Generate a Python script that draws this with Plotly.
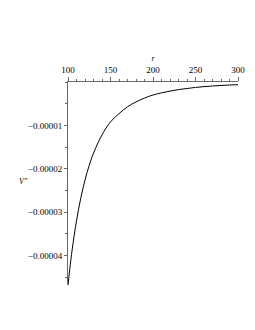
import plotly.graph_objects as go

r_vals = [100, 102, 105, 110, 115, 120, 125, 130, 140, 150, 160, 170, 180, 190,
          200, 210, 220, 230, 240, 250, 260, 270, 280, 290, 300]
v_vals = [-0.0000468, -0.0000433, -0.0000385, -0.0000320, -0.0000268, -0.0000226,
          -0.0000192, -0.0000164, -0.0000122, -0.0000092, -0.0000073, -0.0000057,
          -0.0000046, -0.0000037, -0.0000030, -0.0000025, -0.0000021, -0.00000175,
          -0.0000015, -0.00000125, -0.00000107, -0.00000092, -0.0000008, -0.0000007,
          -0.00000062]

x_ticks = [100, 150, 200, 250, 300]
x_labels = ["100", "150", "200", "250", "300"]
y_ticks = [-0.00001, -0.00002, -0.00003, -0.00004]
y_labels = ["\u22120.00001", "\u22120.00002", "\u22120.00003", "\u22120.00004"]

font = "Liberation Serif"
axis_col = "#6a6a6a"

fig = go.Figure()
fig.add_trace(go.Scatter(x=r_vals, y=v_vals, mode="lines",
                         line=dict(color="black", width=1, shape="spline"),
                         hoverinfo="skip", showlegend=False))

fig.update_layout(
    width=255, height=330,
    margin=dict(l=60, r=25, t=74, b=53, autoexpand=False),
    paper_bgcolor="white", plot_bgcolor="white",
    font=dict(family=font, size=9, color="black"),
    xaxis=dict(
        range=[100, 300], side="top", showgrid=False, zeroline=False,
        showline=True, linecolor=axis_col, linewidth=1, automargin=False,
        tickvals=x_ticks, ticktext=x_labels, ticks="outside", ticklen=4,
        tickcolor=axis_col, tickwidth=1,
        minor=dict(dtick=10, ticks="outside", ticklen=2, tickcolor=axis_col, tickwidth=1),
        tickfont=dict(family=font, size=9),
        title=dict(text="<i>r</i>", font=dict(family=font, size=8), standoff=2),
    ),
    yaxis=dict(
        range=[-0.0000468, 0], showgrid=False, zeroline=False,
        showline=True, linecolor=axis_col, linewidth=1, automargin=False,
        tickvals=y_ticks, ticktext=y_labels, ticks="outside", ticklen=3,
        tickcolor=axis_col, tickwidth=1,
        minor=dict(dtick=0.000005, ticks="outside", ticklen=2, tickcolor=axis_col, tickwidth=1),
        tickfont=dict(family=font, size=9),
    ),
    annotations=[dict(text="<i>V''</i>", x=(16 - 60) / 170, y=(330 - 53 - 173) / 203,
                      xref="paper", yref="paper", xanchor="center", yanchor="middle",
                      showarrow=False, font=dict(family=font, size=8))],
)

fig.write_html("out.html")
